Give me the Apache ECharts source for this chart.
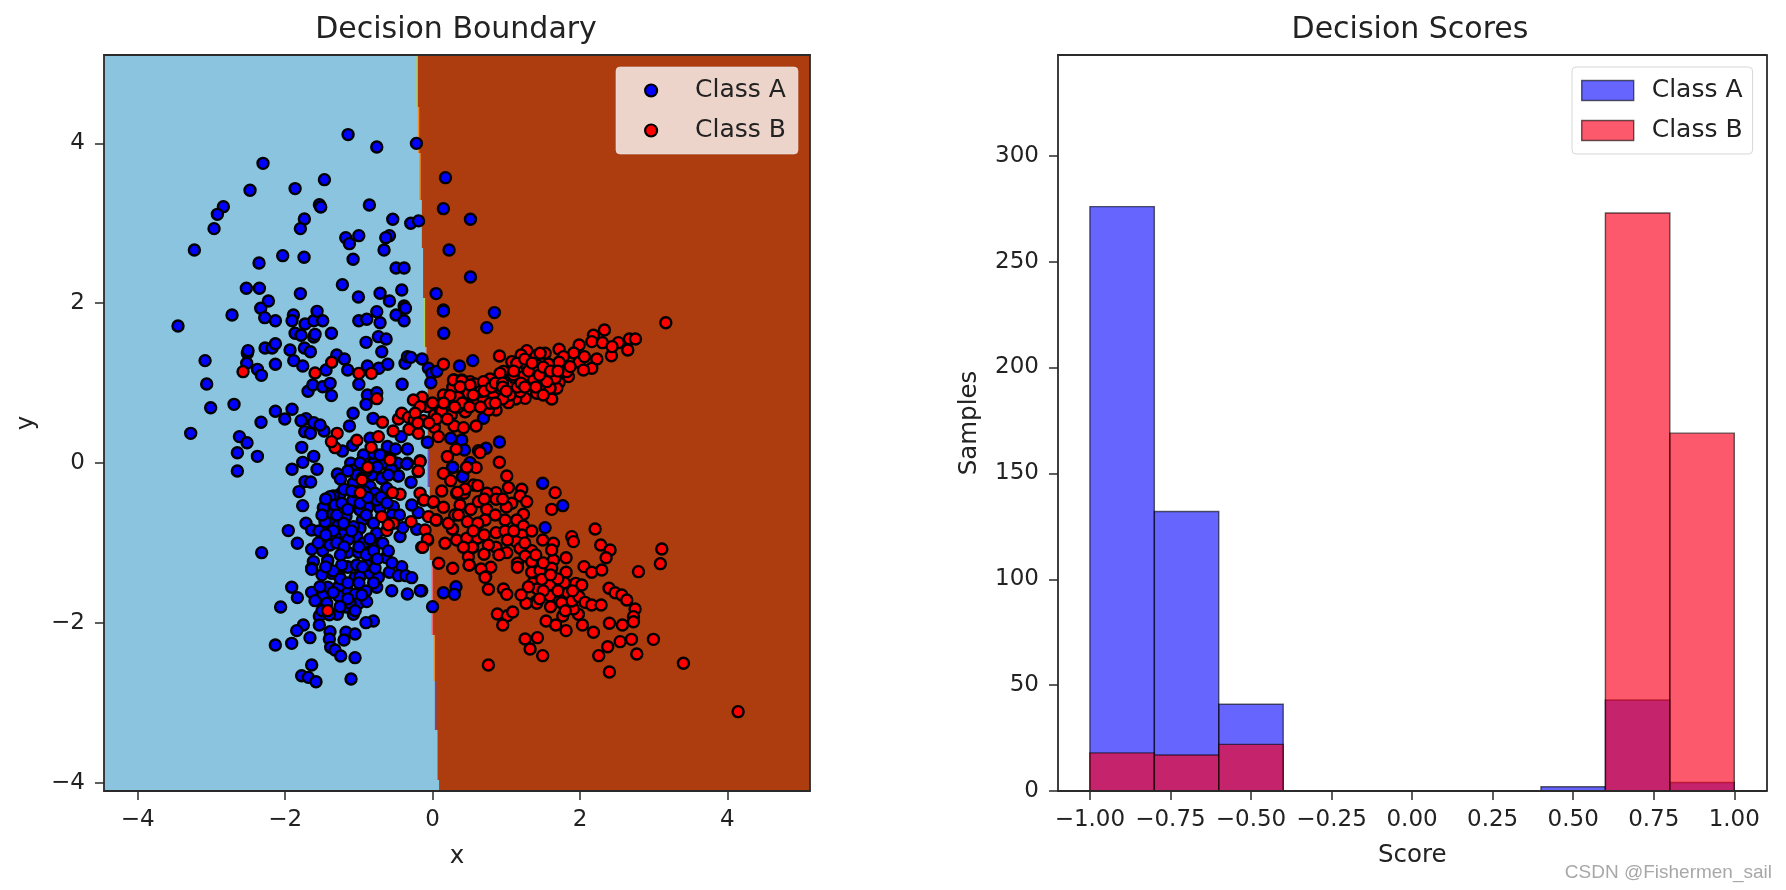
<!DOCTYPE html>
<html><head><meta charset="utf-8">
<style>html,body{margin:0;padding:0;background:#fff}#c{width:1786px;height:890px;filter:blur(0.45px)}</style>
<script src="https://cdn.jsdelivr.net/npm/echarts@6/dist/echarts.min.js"></script>
</head><body><div id="c"></div>
<script>
const classAPoints = [
[-1.146,4.11],[-0.757,3.955],[-0.219,4.0],[-2.3,3.75],[-1.467,3.546],[-1.865,3.434],[-2.476,3.413],[0.175,3.571],[-2.838,3.208],[-2.919,3.112],
[-2.964,2.933],[-1.535,3.233],[-1.517,3.204],[-0.857,3.229],[0.147,3.183],[-1.739,3.054],[-1.793,2.933],[-0.54,3.05],[-0.296,3.0],[-0.19,3.03],
[0.514,3.05],[-3.231,2.666],[-1.178,2.82],[-1.001,2.845],[-1.128,2.745],[-0.585,2.845],[-0.635,2.82],[-0.658,2.666],[0.224,2.666],[-2.033,2.595],
[-1.743,2.574],[-2.354,2.503],[-1.078,2.549],[-0.495,2.441],[-0.386,2.441],[0.514,2.328],[-2.526,2.186],[-2.349,2.186],[-1.223,2.232],[-1.793,2.12],
[-1.006,2.078],[-0.712,2.124],[-0.585,2.028],[-0.418,2.165],[0.048,2.12],[-2.227,2.028],[-2.331,1.936],[-0.386,1.965],[-0.368,1.936],[0.147,1.915],
[-2.72,1.852],[-0.757,1.894],[-3.453,1.715],[-2.277,1.819],[-2.132,1.781],[-1.888,1.852],[-1.906,1.781],[-1.73,1.74],[-1.612,1.781],[-1.567,1.898],
[-1.49,1.781],[-1.372,1.623],[-1.865,1.623],[-1.784,1.598],[-1.612,1.577],[-1.594,1.61],[-1.001,1.781],[-0.893,1.798],[-0.712,1.756],[-0.495,1.852],
[-0.386,1.781],[-0.902,1.51],[-0.735,1.581],[-0.63,1.552],[-0.689,1.393],[0.152,1.623],[-2.272,1.439],[-2.177,1.439],[-2.132,1.493],[-2.512,1.373],
[-2.503,1.406],[-1.933,1.414],[-1.739,1.439],[-1.657,1.393],[-3.086,1.281],[-1.883,1.281],[-1.761,1.214],[-2.132,1.235],[-2.521,1.247],[-2.376,1.172],
[-2.322,1.097],[-1.445,1.164],[-1.3,1.352],[-1.196,1.302],[-1.151,1.164],[-0.884,1.214],[-0.73,1.185],[-0.608,1.235],[-0.373,1.247],[-0.341,1.331],
[-0.296,1.322],[-0.142,1.302],[-0.056,1.185],[-0.011,1.122],[0.057,1.147],[-0.024,1.005],[0.365,1.214],[0.545,1.281],[-3.064,0.989],[-0.413,0.985],
[-1.689,0.897],[-1.625,0.976],[-1.49,0.955],[-1.39,0.997],[-1.372,0.843],[-1.0,0.985],[-0.884,0.851],[-0.757,0.88],[-0.902,0.734],[-3.01,0.692],
[-2.693,0.734],[-2.132,0.647],[-1.906,0.672],[-2.005,0.551],[-2.327,0.509],[-3.281,0.371],[-1.078,0.622],[-0.807,0.559],[-1.128,0.463],[-1.716,0.555],
[-1.784,0.53],[-1.612,0.505],[-1.734,0.392],[-1.657,0.371],[-1.472,0.4],[-1.526,0.476],[-2.62,0.33],[-2.517,0.254],[-2.648,0.129],[-2.376,0.083],
[-2.648,-0.1],[-1.775,0.196],[-1.612,0.083],[-1.761,0.008],[-1.906,-0.079],[-1.567,-0.079],[-1.291,-0.138],[-1.223,0.15],[-1.083,0.221],[-0.427,0.33],
[-0.07,0.259],[0.247,0.309],[0.396,0.288],[-0.847,0.309],[-0.612,0.206],[-0.504,0.175],[-0.341,0.175],[-1.11,-0.004],[-0.983,-0.004],[-0.802,-0.004],
[-0.667,-0.004],[-0.477,-0.004],[-0.341,-0.004],[-0.802,0.121],[-0.938,0.1],[-0.712,0.1],[-0.554,-0.075],[-0.689,-0.192],[-0.463,-0.159],[-0.802,-0.13],
[-1.028,-0.15],[-1.074,-0.088],[0.27,-0.058],[0.41,-0.159],[0.509,-0.004],[0.735,1.694],[0.839,1.882],[0.147,1.902],[0.69,0.559],[0.907,0.263],
[0.726,0.184],[0.432,0.163],[-1.73,-0.233],[-1.654,-0.237],[-1.812,-0.358],[-1.762,-0.534],[-1.482,-0.559],[-1.355,-0.642],[-1.255,-0.392],[-1.346,-0.413],
[-1.717,-0.755],[-1.957,-0.846],[-1.834,-1.005],[-2.318,-1.122],[-1.64,-0.838],[-1.54,-0.851],[-1.4,-0.755],[-1.278,-0.775],[-1.174,-0.663],[-0.952,-0.713],
[-1.084,-0.471],[-0.88,-0.559],[-0.984,-0.817],[-0.803,-0.755],[-1.074,-0.796],[-1.219,-0.9],[-1.323,-0.921],[-1.03,-0.921],[-1.142,-0.955],[-0.835,-1.005],
[-0.677,-1.005],[-0.441,-0.921],[-0.405,-0.809],[-0.215,-0.83],[-0.193,-0.621],[-0.283,-0.525],[-0.69,-0.191],[-0.564,-0.079],[-0.464,-0.162],[-0.292,-0.241],
[-0.351,-0.012],[-0.848,-0.296],[-0.781,-0.379],[-0.622,-0.317],[-0.713,-0.567],[-1.64,-1.08],[-1.491,-1.097],[-1.423,-1.214],[-1.617,-1.234],[-1.151,-1.118],
[-1.007,-1.118],[-0.631,-1.184],[-0.419,-1.297],[-1.151,-1.297],[-1.64,-1.318],[-1.391,-1.026],[-1.459,-0.734],[-0.984,-0.588],[-0.758,-0.88],[-0.939,-1.005],
[-1.391,-0.421],[-1.323,-0.525],[-1.233,-0.504],[-0.984,-0.504],[-0.758,-0.463],[-0.532,-0.546],[-1.075,-0.254],[-1.03,-0.15],[-0.826,-0.15],[-0.984,0.0],
[-1.21,-0.755],[1.494,-0.254],[1.766,-0.534],[1.526,-0.809],[0.273,-0.054],[0.409,-0.171],[0.508,0.004],[-0.147,-1.598],[0.147,-1.623],[0.318,-1.548],
[0.296,-1.644],[0.0,-1.798],[-1.64,-1.331],[-1.423,-1.226],[-1.151,-1.306],[-1.269,-1.414],[-1.052,-1.435],[-0.848,-1.381],[-0.735,-1.431],[-0.586,-1.368],
[-0.464,-1.41],[-0.364,-1.41],[-0.283,-1.435],[-0.758,-1.556],[-0.903,-1.602],[-1.151,-1.602],[-1.274,-1.548],[-1.423,-1.556],[-1.64,-1.619],[-1.911,-1.556],
[-1.834,-1.685],[-1.491,-1.665],[-1.274,-1.665],[-1.595,-1.723],[-1.052,-1.644],[-0.554,-1.598],[-0.342,-1.64],[-0.166,-1.598],[-2.061,-1.802],[-1.536,-1.915],
[-1.174,-1.802],[-1.002,-1.756],[-1.292,-1.894],[-1.074,-1.894],[-0.894,-1.735],[-0.803,-1.977],[-0.903,-1.998],[-1.753,-2.027],[-1.843,-2.098],[-1.536,-2.027],
[-1.663,-2.186],[-1.911,-2.257],[-2.133,-2.278],[-1.391,-2.111],[-1.4,-2.203],[-1.174,-2.119],[-1.052,-2.14],[-1.201,-2.215],[-1.382,-2.307],[-1.323,-2.34],
[-1.246,-2.416],[-1.052,-2.436],[-1.64,-2.528],[-1.776,-2.662],[-1.685,-2.683],[-1.581,-2.737],[-1.106,-2.703],[-1.369,-1.381],[-0.984,-1.423],[-1.527,-1.548],
[-0.962,-1.652],[-1.12,-1.756],[-1.436,-1.756],[-1.255,-1.798],[-1.03,-1.277],[-0.894,-1.277],[-0.781,-1.318],[-1.233,-1.277],
[-1.45,-0.45],[-1.2,-0.33],[-1.15,-0.58],[-1.05,-0.36],[-0.92,-0.36],[-0.88,-0.43],[-0.7,-0.43],[-0.62,-0.5],[-0.6,-0.15],[-0.75,-0.05],
[-0.9,-0.1],[-1.15,-0.1],[-1.25,-0.2],[-1.35,-0.85],[-1.3,-1.0],[-1.2,-1.05],[-1.1,-0.85],[-0.9,-0.65],[-1.0,-1.05],[-0.9,-1.15],
[-0.8,-1.1],[-1.25,-1.15],[-1.35,-1.35],[-1.5,-1.4],[-1.3,-0.65],[-1.5,-0.65],[-1.45,-0.9],[-1.55,-1.0],[-1.25,-1.45],[-1.15,-1.5],
[-1.0,-1.5],[-1.35,-1.62],[-1.15,-1.7],[-1.05,-1.85],[-1.4,-1.9],[-1.5,-1.85],[-0.8,-1.5],[-1.1,-0.35],[-0.55,-0.65],[-0.6,-0.75],
[-0.45,-0.65],[-0.85,-0.95],[-0.6,-1.1],[-0.75,-1.2],[-0.55,-1.25],[-0.95,-1.3],[-1.45,-1.3]
];
const classBPoints = [
[-2.571,1.143],[-1.594,1.126],[-1.368,1.26],[-1.0,1.122],[-0.83,1.122],[0.147,1.235],[-0.757,0.805],[-1.295,0.371],[-1.028,0.284],[-1.323,0.192],
[-1.372,0.267],[-0.834,0.196],[-0.735,0.33],[-0.68,0.509],[-0.535,0.4],[-0.463,0.551],[-0.319,0.421],[-0.192,0.371],[-0.124,0.53],[-0.07,0.705],
[-0.142,0.822],[-0.26,0.788],[0.025,0.601],[0.025,0.446],[0.08,0.33],[0.25,0.601],[0.292,0.463],[0.419,0.442],[0.59,0.463],[0.441,0.642],
[0.342,0.83],[0.491,0.864],[0.591,0.768],[-0.576,0.058],[-0.169,0.029],[-0.196,-0.108],[-0.875,-0.058],[-0.96,-0.19],[0.202,0.079],[0.32,0.171],
[0.622,0.154],[0.147,-0.13],[0.464,-0.058],[0.591,-0.058],[0.292,1.039],[0.147,0.851],[0.238,0.851],[0.274,0.947],[0.396,1.039],[0.509,1.018],
[0.6,0.976],[-0.418,0.622],[-0.328,0.571],[-0.169,0.705],[-0.25,0.538],[0.103,0.663],[3.164,1.756],[2.331,1.665],[2.182,1.598],[2.16,1.519],
[2.304,1.506],[2.521,1.506],[2.671,1.552],[2.752,1.552],[2.648,1.414],[2.426,1.343],[2.435,1.456],[1.988,1.477],[1.915,1.377],[1.716,1.423],
[1.775,1.331],[1.988,1.26],[2.06,1.331],[2.228,1.302],[2.16,1.185],[2.047,1.164],[1.843,1.081],[1.716,1.26],[1.572,1.239],[1.549,1.122],
[1.716,1.006],[1.685,0.935],[1.617,0.801],[1.504,0.964],[1.527,1.373],[1.4,1.343],[1.278,1.406],[1.201,1.352],[1.459,1.373],[1.278,1.214],
[1.368,1.051],[1.328,0.914],[1.255,0.809],[1.151,0.989],[1.128,0.801],[1.029,0.755],[0.907,1.339],[0.961,1.147],[1.074,1.268],[0.78,1.051],
[0.735,0.935],[0.925,0.88],[1.052,1.018],[0.862,0.663],[0.758,0.663],[0.59,0.755],[0.486,0.872],[0.346,0.822],[0.283,1.039],[0.396,1.03],
[0.577,0.989],[0.237,0.843],[0.445,0.643],[0.251,0.601],[0.124,0.651],[-0.237,0.622],[0.69,0.79],[0.826,0.83],[1.006,0.976],[1.232,1.081],
[1.413,1.227],[1.662,1.06],[1.097,1.101],[0.916,1.122],[0.69,1.018],[0.509,0.976],[0.645,0.893],[0.373,0.955],[0.78,0.747],[1.187,0.893],
[1.413,0.872],[1.594,0.935],[1.82,1.143],[1.866,1.206],[1.368,1.164],[1.142,1.247],[1.549,1.018],[-0.88,-0.054],[-0.957,-0.212],[-0.98,-0.371],
[-0.441,-0.392],[-0.545,-0.371],[-0.577,0.038],[-0.17,0.017],[-0.193,-0.1],[-0.69,-0.671],[-0.622,-0.846],[-0.532,-0.755],[-0.6,-0.775],[-0.292,-0.734],
[-0.125,-0.463],[-0.17,-0.379],[0.002,-0.492],[-0.102,-0.838],[-0.066,-0.963],[-0.147,-1.055],[0.124,-0.35],[0.327,-0.379],[0.246,-0.221],[0.056,-0.713],
[-0.057,-0.671],[0.147,-0.554],[0.169,-1.005],[0.273,-0.826],[0.083,-1.255],[0.273,-1.318],[0.499,-1.276],[0.486,-1.172],[0.472,-0.942],[0.599,-0.942],
[0.545,-1.055],[0.472,-0.734],[0.622,-0.755],[0.518,-0.58],[0.373,-0.525],[0.463,-0.054],[0.427,-0.379],[0.554,-0.275],[0.327,-0.963],[0.201,0.08],
[0.906,0.009],[0.644,0.13],[1.006,-0.162],[1.029,-0.308],[1.21,-0.329],[1.662,-0.371],[1.616,-0.58],[1.187,-0.413],[1.277,-0.484],[1.074,-0.504],
[0.861,-0.371],[0.735,-0.379],[0.612,-0.283],[0.441,-0.325],[0.337,-0.367],[-0.116,-0.463],[0.011,-0.484],[0.517,-0.58],[0.622,-0.484],[0.735,-0.58],
[0.861,-0.454],[1.232,-0.642],[1.142,-0.713],[0.983,-0.713],[0.712,-0.713],[0.612,-0.755],[0.269,-0.826],[0.047,-0.713],[0.214,-0.755],[-0.07,-0.955],
[-0.134,-1.055],[0.463,-0.943],[0.612,-0.938],[0.861,-0.872],[0.983,-0.851],[1.232,-0.788],[1.345,-0.851],[1.494,-0.963],[1.21,-0.901],[1.133,-0.984],
[1.015,-0.963],[0.861,-1.055],[0.757,-1.026],[0.54,-1.055],[0.418,-1.055],[0.698,-1.143],[1.006,-1.122],[1.187,-1.068],[1.345,-1.097],[1.255,-1.164],
[1.639,-1.005],[1.888,-0.922],[1.91,-0.984],[2.205,-0.826],[2.281,-1.026],[2.408,-1.089],[2.354,-1.185],[1.811,-1.185],[1.639,-1.214],[1.345,-1.235],
[1.616,-1.089],[2.055,-1.297],[2.159,-1.368],[2.295,-1.339],[2.793,-1.36],[1.811,-1.368],[1.616,-1.318],[1.345,-1.368],[1.458,-1.347],[1.151,-1.255],
[1.151,-1.305],[0.789,-1.305],[0.658,-1.326],[0.495,-1.276],[0.721,-1.422],[0.712,-1.431],[0.757,-1.581],[0.961,-1.577],[1.006,-1.644],[1.359,-1.506],
[1.422,-1.577],[1.594,-1.527],[1.481,-1.456],[1.594,-1.664],[1.834,-1.623],[1.942,-1.506],[2.024,-1.527],[1.788,-1.498],[2.394,-1.568],[2.476,-1.623],
[2.566,-1.652],[2.634,-1.714],[2.747,-1.827],[2.725,-1.923],[2.725,-1.986],[2.575,-2.027],[2.399,-2.006],[2.182,-2.119],[2.033,-2.027],[1.978,-1.894],
[1.91,-1.827],[1.888,-1.727],[1.987,-1.673],[2.069,-1.744],[2.159,-1.777],[2.286,-1.777],[1.716,-1.735],[1.399,-1.735],[1.413,-1.756],[1.268,-1.756],
[0.879,-1.89],[1.015,-1.911],[1.087,-1.865],[0.952,-2.027],[1.54,-1.977],[1.671,-2.027],[1.766,-1.915],[1.811,-2.098],[1.255,-2.203],[1.422,-2.186],
[1.323,-2.328],[1.494,-2.411],[0.757,-2.528],[2.544,-2.236],[2.698,-2.207],[2.376,-2.299],[2.254,-2.411],[2.77,-2.39],[2.996,-2.207],[2.399,-2.616],
[3.403,-2.507],[4.145,-3.112],[3.11,-1.076],[3.09,-1.26],[-1.423,-1.848],
[0.35,0.7],[0.4,0.75],[0.55,0.85],[0.65,0.7],[0.7,0.9],[0.8,0.95],[0.85,1.0],[0.95,1.0],[0.95,0.95],[1.05,0.85],
[1.15,0.95],[1.2,1.0],[1.25,0.95],[1.3,1.15],[1.4,0.95],[1.45,1.1],[1.5,1.2],[1.6,1.15],[1.7,1.15],[1.1,1.15],
[1.25,1.3],[1.35,1.25],[0.2,0.55],[0.15,0.75],[0.05,0.55],[0.0,0.75],[-0.05,0.5],[-0.2,0.5],[0.3,0.7],[0.5,0.7],
[0.95,0.8],[0.85,0.75],[1.0,0.9],[1.5,0.85],[0.3,-0.65],[0.7,-0.45],[0.85,-0.65],[1.0,-0.55],[1.1,-0.85],[0.9,-1.15],
[1.25,-1.0],[1.4,-1.15],[1.5,-1.25],[1.7,-1.45],[1.6,-1.4],[1.7,-1.6],[1.5,-1.6],[1.3,-1.55],[1.2,-1.65],[1.75,-1.75],
[1.6,-1.8],[1.8,-1.85],[0.7,-0.9],[0.35,-0.65],[0.95,-0.45],[0.55,-0.85],[1.45,-1.7],[1.9,-1.6]
];
const boundaryYEdges = [5.106,4.456,3.88,3.292,2.691,2.065,1.452,0.939,0.163,-0.3,-1.214,-2.153,-2.728,-3.342,-3.967,-4.105];
const boundaryX = [-0.21,-0.19,-0.17,-0.147,-0.129,-0.111,-0.092,-0.068,-0.057,-0.041,-0.003,0.02,0.041,0.065,0.088];
const binEdges = [-1,-0.8,-0.6,-0.4,-0.2,0,0.2,0.4,0.6,0.8,1];
const histCountsA = [276,132,41,0,0,0,0,2,43,4];
const histCountsB = [18,17,22,0,0,0,0,0,273,169];
const scatterXTicks = [-4,-2,0,2,4];
const scatterYTicks = [-4,-2,0,2,4];
const histXTicks = [-1,-0.75,-0.5,-0.25,0,0.25,0.5,0.75,1];
const histYTicks = [0,50,100,150,200,250,300];

const FRINGE = ['#b5c95a','#f08a2a','#f08a2a',null,null,'#a8d65a','#e89a90',null,'#6a4fc0',null,'#e86a70','#f0a040','#6a4aa8',null,null];
const X0=[-4.457,5.12], Y0=[-4.105,5.106], X1=[-1.099,1.1], Y1=[0,347.6];
const FONT='"DejaVu Sans"', INK='#2a2a2a', TXT='#222';
const FILL_A='rgba(0,0,255,0.6)', FILL_B='rgba(250,0,30,0.65)';
const minus=s=>String(s).replace('-','\u2212');

function mainAxis(pos,range,ticks,name,gap,grid,fmt,rot,margin){
  const lab={show:true,color:TXT,fontFamily:FONT,fontSize:23,margin,customValues:ticks,showMinLabel:true,showMaxLabel:true,formatter:fmt};
  return {type:'value',gridIndex:grid,position:pos,min:range[0],max:range[1],z:5,
    name,nameLocation:'middle',nameGap:gap,nameRotate:rot,nameMoveOverlap:false,nameTextStyle:{color:TXT,fontFamily:FONT,fontSize:24.5},
    axisLine:{show:true,onZero:false,lineStyle:{color:INK,width:1.8}},
    axisTick:{show:true,length:9,customValues:ticks,lineStyle:{color:INK,width:1.5}},
    axisLabel:lab,splitLine:{show:false}};
}
function frameAxis(pos,range,grid){
  return {type:'value',gridIndex:grid,position:pos,min:range[0],max:range[1],z:5,
    axisLine:{show:true,onZero:false,lineStyle:{color:INK,width:1.8}},
    axisTick:{show:false},axisLabel:{show:false},splitLine:{show:false}};
}
function regionItem(params,api){
  const left=params.dataIndex===0, edge=left?X0[0]:X0[1];
  const pts=[api.coord([edge,Y0[1]])];
  boundaryX.forEach((x,i)=>{pts.push(api.coord([x,boundaryYEdges[i]]));pts.push(api.coord([x,boundaryYEdges[i+1]]));});
  pts.push(api.coord([edge,Y0[0]]));
  return {type:'polygon',shape:{points:pts},style:{fill:left?'#8BC4DE':'#AD3C0F'}};
}
function fringeItem(params,api){
  const i=params.dataIndex;
  if(!FRINGE[i])return null;
  const a=api.coord([boundaryX[i],boundaryYEdges[i]]),b=api.coord([boundaryX[i],boundaryYEdges[i+1]]);
  return {type:'line',shape:{x1:a[0],y1:a[1],x2:b[0],y2:b[1]},style:{stroke:FRINGE[i],lineWidth:1.5}};
}
function barItem(fill){
  return (params,api)=>{
    const a=api.coord([api.value(0),api.value(2)]),b=api.coord([api.value(1),0]);
    return {type:'rect',shape:{x:a[0],y:a[1],width:b[0]-a[0],height:b[1]-a[1]},
      style:{fill,stroke:'rgba(0,0,0,0.6)',lineWidth:1.4}};
  };
}
const bars=c=>c.map((v,i)=>[binEdges[i],binEdges[i+1],v]);
const titleStyle={color:TXT,fontFamily:FONT,fontSize:30,fontWeight:'normal'};
const legText={color:TXT,fontFamily:FONT,fontSize:25,padding:[0,0,0,13]};

const chart=echarts.init(document.getElementById('c'),null,{renderer:'canvas'});
chart.setOption({
  animation:false,backgroundColor:'#fff',tooltip:{show:false},
  title:[
    {text:'Decision Boundary',left:456,top:15,padding:0,textAlign:'center',textStyle:titleStyle},
    {text:'Decision Scores',left:1410,top:15,padding:0,textAlign:'center',textStyle:titleStyle},
    {text:'CSDN @Fishermen_sail',right:9,top:858,textStyle:{color:'#a8a8a8',fontFamily:'"Liberation Sans"',fontSize:19,fontWeight:'normal'}}
  ],
  grid:[{left:104,top:55,width:706,height:736},{left:1058,top:55,width:708.5,height:736}],
  xAxis:[
    mainAxis('bottom',X0,scatterXTicks,'x',53,0,v=>minus(v),undefined,18),
    mainAxis('bottom',X1,histXTicks,'Score',52,1,v=>minus(Number(v).toFixed(2)),undefined,18),
    frameAxis('top',X0,0),frameAxis('top',X1,1)
  ],
  yAxis:[
    mainAxis('left',Y0,scatterYTicks,'y',65,0,v=>minus(v),90,19),
    mainAxis('left',Y1,histYTicks,'Samples',76,1,v=>String(v),90,19),
    frameAxis('right',Y0,0),frameAxis('right',Y1,1)
  ],
  legend:[
    {show:true,left:616,top:67,orient:'vertical',selectedMode:false,padding:[11,12,11,28],itemWidth:52,itemHeight:12,itemGap:15,
     backgroundColor:'rgba(255,255,255,0.78)',borderColor:'rgba(230,230,230,0.6)',borderWidth:1,borderRadius:4,textStyle:legText,
     data:[{name:'Class A',icon:'circle',itemStyle:{color:'#0000ff',borderColor:'#000',borderWidth:2.2}},
           {name:'Class B',icon:'circle',itemStyle:{color:'#ff0000',borderColor:'#000',borderWidth:2.2}}]},
    {show:true,left:1572,top:67,orient:'vertical',selectedMode:false,padding:[11,10,11,9],itemWidth:52,itemHeight:20,itemGap:15,
     formatter:n=>n.trim(),
     backgroundColor:'rgba(255,255,255,0.8)',borderColor:'#d8d8d8',borderWidth:1,borderRadius:4,textStyle:legText,
     data:[{name:'Class A ',icon:'rect',itemStyle:{color:FILL_A,borderColor:'rgba(0,0,0,0.6)',borderWidth:1.4}},
           {name:'Class B ',icon:'rect',itemStyle:{color:FILL_B,borderColor:'rgba(0,0,0,0.6)',borderWidth:1.4}}]}
  ],
  series:[
    {type:'custom',name:'regions',xAxisIndex:0,yAxisIndex:0,clip:true,silent:true,z:1,data:[[X0[0],Y0[0]],[X0[1],Y0[1]]],renderItem:regionItem},
    {type:'custom',name:'boundary',xAxisIndex:0,yAxisIndex:0,clip:true,silent:true,z:1.5,data:boundaryX.map((x,i)=>[x,boundaryYEdges[i]]),renderItem:fringeItem},
    {type:'scatter',name:'Class A',xAxisIndex:0,yAxisIndex:0,z:2,symbol:'circle',symbolSize:11,itemStyle:{color:'#0000ff',borderColor:'#000',borderWidth:2.4,opacity:1},data:classAPoints,silent:true},
    {type:'scatter',name:'Class B',xAxisIndex:0,yAxisIndex:0,z:3,symbol:'circle',symbolSize:11,itemStyle:{color:'#ff0000',borderColor:'#000',borderWidth:2.4,opacity:1},data:classBPoints,silent:true},
    {type:'custom',name:'Class A ',xAxisIndex:1,yAxisIndex:1,clip:true,silent:true,z:2,data:bars(histCountsA),renderItem:barItem(FILL_A),itemStyle:{color:FILL_A}},
    {type:'custom',name:'Class B ',xAxisIndex:1,yAxisIndex:1,clip:true,silent:true,z:3,data:bars(histCountsB),renderItem:barItem(FILL_B),itemStyle:{color:FILL_B}}
  ]
});
</script></body></html>
